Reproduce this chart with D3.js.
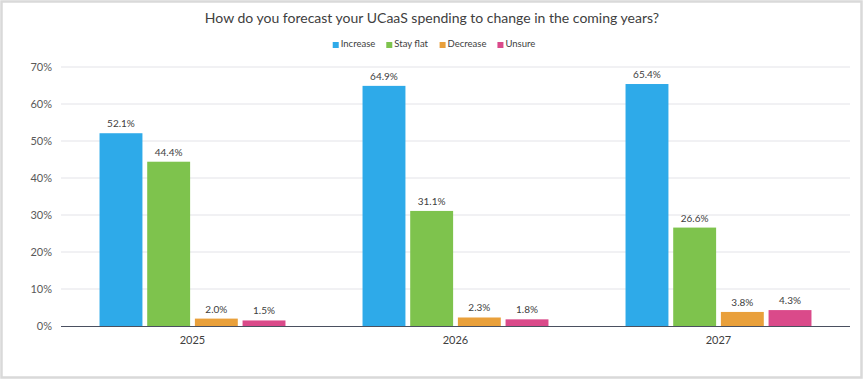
<!DOCTYPE html>
<html>
<head>
<meta charset="utf-8">
<script src="https://cdn.jsdelivr.net/npm/d3@7"></script>
<style>
  html, body { margin: 0; padding: 0; background: #fff; }
  svg { display: block; font-family: Lato, "Open Sans", sans-serif; }
</style>
</head>
<body>
<svg id="chart" width="864" height="380"></svg>
<script>
const categories = ["2025", "2026", "2027"];
const seriesNames = ["Increase", "Stay flat", "Decrease", "Unsure"];
const increase = [52.1, 64.9, 65.4];
const stayFlat = [44.4, 31.1, 26.6];
const decrease = [2.0, 2.3, 3.8];
const unsure = [1.5, 1.8, 4.3];
const yTicks = [0, 10, 20, 30, 40, 50, 60, 70];
const colors = ["#2EAAE9", "#7EC34D", "#E9A03B", "#DA4A8A"];
const title = "How do you forecast your UCaaS spending to change in the coming years?";

const seriesValues = [increase, stayFlat, decrease, unsure];

(function () {
const svg = d3.select("#chart");
const W = 864, H = 380;
const mLeft = 61, mRight = 850, mTop = 67, mBottom = 326;

// frame
svg.append("rect").attr("x", 1.5).attr("y", 1.5).attr("width", W - 4).attr("height", H - 4)
  .attr("fill", "#fff").attr("stroke", "#d9d9d9").attr("stroke-width", 2.5);

const x0 = d3.scaleBand().domain(categories).range([mLeft, mRight]).paddingInner(0.293).paddingOuter(0.1465);
const x1 = d3.scaleBand().domain(seriesNames).range([0, x0.bandwidth()]).paddingInner(0.1);
const y = d3.scaleLinear().domain([0, 70]).range([mBottom, mTop]);

// gridlines
svg.append("g").selectAll("line").data(yTicks.filter(d => d > 0)).join("line")
  .attr("x1", mLeft).attr("x2", mRight)
  .attr("y1", d => y(d)).attr("y2", d => y(d))
  .attr("stroke", "#e3e3e8").attr("stroke-width", 1);

// y axis labels
const yAxis = d3.axisLeft(y).tickValues(yTicks).tickFormat(d => d + "%").tickSize(0).tickPadding(9);
const ya = svg.append("g").attr("transform", `translate(${mLeft},0)`).call(yAxis);
ya.select(".domain").remove();
ya.selectAll("text").attr("font-size", 11).attr("fill", "#595959").attr("font-family", "Lato, sans-serif");

// bars
const groups = svg.append("g").selectAll("g").data(categories).join("g")
  .attr("transform", d => `translate(${x0(d)},0)`);

groups.each(function(cat, ci) {
  const g = d3.select(this);
  const data = seriesNames.map((s, si) => ({ s, si, v: seriesValues[si][ci] }));
  g.selectAll("rect").data(data).join("rect")
    .attr("x", d => x1(d.s)).attr("width", x1.bandwidth())
    .attr("y", d => y(d.v)).attr("height", d => y(0) - y(d.v))
    .attr("fill", d => colors[d.si]);
  g.selectAll("text").data(data).join("text")
    .attr("x", d => x1(d.s) + x1.bandwidth() / 2)
    .attr("y", d => y(d.v) - 6)
    .attr("text-anchor", "middle")
    .attr("font-size", 10).attr("fill", "#404040")
    .text(d => d.v.toFixed(1) + "%");
});

// x axis baseline
svg.append("line").attr("x1", mLeft).attr("x2", mRight).attr("y1", mBottom + 0.5).attr("y2", mBottom + 0.5)
  .attr("stroke", "#4a5060").attr("stroke-width", 1.2);

const xAxis = d3.axisBottom(x0).tickSize(0).tickPadding(10);
const xa = svg.append("g").attr("transform", `translate(0,${mBottom})`).call(xAxis);
xa.select(".domain").remove();
xa.selectAll("text").attr("font-size", 11).attr("fill", "#404040").attr("font-family", "Lato, sans-serif");

// title
svg.append("text").attr("x", 432).attr("y", 23).attr("text-anchor", "middle")
  .attr("font-size", 14).attr("fill", "#404040").text(title);

// legend
const legend = svg.append("g");
const items = legend.selectAll("g").data(seriesNames).join("g");
items.append("rect").attr("width", 6).attr("height", 6).attr("y", -5).attr("fill", (d, i) => colors[i]);
items.append("text").attr("x", 8).attr("y", 0).attr("font-size", 9.5).attr("fill", "#404040").text(d => d);
let xpos = 0;
items.each(function() {
  const w = this.getBBox().width;
  d3.select(this).attr("transform", `translate(${xpos},47)`);
  xpos += w + 11;
});
const totalW = xpos - 11;
legend.attr("transform", `translate(${434 - totalW / 2},0)`);
})();
</script>
</body>
</html>
